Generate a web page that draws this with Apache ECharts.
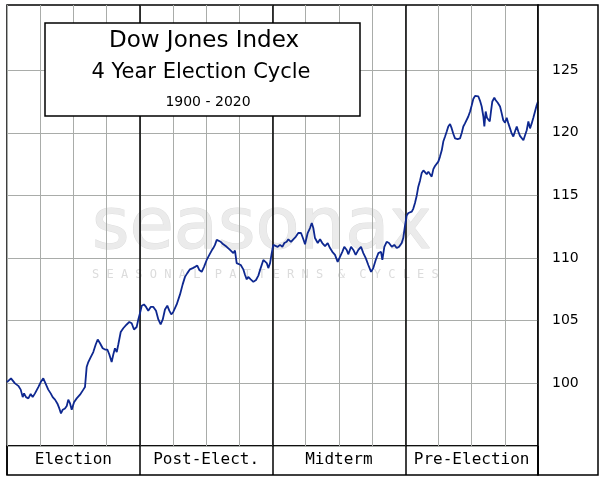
<!DOCTYPE html>
<html>
<head>
<meta charset="utf-8">
<script src="https://cdn.jsdelivr.net/npm/echarts@6.0.0/dist/echarts.min.js"></script>
<style>
html,body{margin:0;padding:0;background:#fff;}
#chart{width:608px;height:483px;}
</style>
</head>
<body>
<div id="chart"></div>
<script>
// Sections of the 4-year cycle (bottom band)
const sectionLabels = ['Election', 'Post-Elect.', 'Midterm', 'Pre-Election'];
const sectionBounds = [12, 24, 36];          // months where a new cycle year starts
const yTickLabels = [100, 105, 110, 115, 120, 125];

// [month of cycle, index value]
const electionYear = [
  [0,100.1],[0.36,100.4],[0.72,100.0],[1.02,99.8],[1.24,99.5],[1.42,98.9],[1.54,99.2],[1.72,98.9],[1.93,98.8],[2.14,99.15],
  [2.32,98.9],[2.53,99.2],[2.83,99.7],[3.05,100.1],[3.28,100.4],[3.53,99.9],[3.73,99.5],[3.95,99.2],[4.13,98.9],[4.34,98.7],
  [4.55,98.4],[4.73,98.0],[4.88,97.6],[5.04,97.9],[5.24,98.0],[5.40,98.2],[5.54,98.7],[5.70,98.4],[5.85,97.9],[6.06,98.5],
  [6.30,98.8],[6.60,99.1],[6.90,99.5],[7.05,99.7],[7.20,101.3],[7.35,101.7],[7.57,102.1],[7.80,102.5],[8.02,103.1],[8.20,103.5],
  [8.41,103.2],[8.65,102.8],[8.86,102.7],[9.07,102.7],[9.25,102.3],[9.46,101.7],[9.61,102.3],[9.76,102.8],[9.92,102.5],[10.06,103.1],
  [10.28,104.1],[10.51,104.4],[10.82,104.7],[11.06,104.9],[11.27,104.8],[11.48,104.3],[11.72,104.5],[11.87,105.1],[12.02,105.6]
];
const postElectionYear = [
  [12.18,106.2],[12.38,106.3],[12.57,106.1],[12.77,105.8],[12.99,106.1],[13.23,106.1],[13.47,105.8],[13.68,105.1],[13.89,104.7],[14.08,105.1],
  [14.28,105.9],[14.49,106.2],[14.67,105.8],[14.85,105.5],[15.03,105.7],[15.34,106.3],[15.64,107.1],[15.88,107.9],[16.09,108.5],[16.30,108.8],
  [16.54,109.1],[16.79,109.2],[17.00,109.3],[17.20,109.4],[17.38,109.05],[17.60,108.9],[17.81,109.3],[18.05,109.85],[18.29,110.25],[18.50,110.6],
  [18.65,110.8],[18.80,111.05],[18.96,111.45],[19.10,111.6],[19.32,111.3],[19.55,111.1],[19.86,110.9],[20.16,110.65],[20.46,110.4],[20.61,110.6],
  [20.76,109.6],[20.91,109.7],[21.13,109.45],[21.36,109.1],[21.52,108.65],[21.67,108.3],[21.81,108.5],[22.03,108.3],[22.27,108.1],[22.51,108.25],
  [22.72,108.6],[22.93,109.2],[23.17,109.85],[23.32,109.9],[23.48,109.6],[23.62,109.2],[23.78,109.6],[23.93,110.4]
];
const midtermYear = [
  [24.07,111.05],[24.23,111.2],[24.47,110.9],[24.68,111.05],[24.89,110.9],[25.07,111.2],[25.28,111.3],[25.43,111.5],[25.67,111.3],[25.88,111.5],
  [26.10,111.7],[26.33,112.0],[26.58,112.0],[26.79,111.5],[26.94,111.1],[27.18,112.0],[27.39,112.4],[27.55,112.8],[27.69,112.4],[27.84,111.6],
  [28.09,111.2],[28.30,111.5],[28.50,111.2],[28.75,110.95],[28.99,111.2],[29.20,110.8],[29.41,110.5],[29.65,110.25],[29.89,109.7],[30.10,110.1],
  [30.31,110.5],[30.49,110.9],[30.71,110.65],[30.85,110.3],[31.10,110.9],[31.31,110.65],[31.52,110.25],[31.76,110.65],[32.00,110.9],[32.21,110.4],
  [32.43,110.0],[32.66,109.45],[32.91,108.9],[33.11,109.2],[33.33,109.85],[33.57,110.4],[33.81,110.5],[33.93,109.85],[34.11,110.9],[34.32,111.3],
  [34.53,111.2],[34.78,110.9],[35.01,111.05],[35.23,110.8],[35.44,110.9],[35.68,111.2],[35.82,111.6],[35.98,112.6]
];
const preElectionYear = [
  [36.13,113.4],[36.28,113.6],[36.43,113.5],[36.59,113.7],[36.73,113.95],[36.88,114.4],[37.04,115.0],[37.18,115.7],[37.34,116.2],[37.49,116.8],
  [37.64,117.0],[37.79,116.9],[37.94,116.7],[38.09,116.9],[38.24,117.0],[38.39,116.5],[38.54,117.1],[38.69,117.35],[38.84,117.25],[38.99,117.7],
  [39.14,118.1],[39.30,118.6],[39.44,119.3],[39.60,119.7],[39.75,120.1],[39.89,120.5],[40.05,120.7],[40.20,120.35],[40.35,119.9],[40.50,119.55],
  [40.74,119.5],[40.95,119.55],[41.11,120.0],[41.25,120.5],[41.40,120.75],[41.56,120.8],[41.70,121.3],[41.86,121.7],[42.01,122.2],[42.15,122.7],
  [42.31,122.95],[42.46,123.0],[42.61,122.9],[42.76,122.55],[42.91,122.1],[43.06,121.3],[43.15,120.5],[43.27,121.7],[43.39,121.2],[43.51,121.3],
  [43.64,120.9],[43.75,121.7],[43.87,122.5],[44.05,122.8],[44.18,122.6],[44.36,122.4],[44.57,122.1],[44.72,121.55],[44.86,121.0],[45.02,120.8],
  [45.17,121.2],[45.32,120.75],[45.47,120.35],[45.62,119.95],[45.77,119.7],[45.92,120.1],[46.08,120.5],[46.22,120.1],[46.37,119.75],[46.53,119.65],
  [46.68,119.4],[46.83,119.8],[46.98,120.2],[47.13,120.9],[47.28,120.35],[47.43,120.75],[47.58,121.2],[47.73,121.7],[47.88,122.2],[48,122.5]
];

const cycleData = [].concat(electionYear, postElectionYear, midtermYear, preElectionYear);

const GRID = '#a9aca9';
const chart = echarts.init(document.getElementById('chart'), null, {renderer: 'canvas'});

chart.setOption({
  animation: false,
  backgroundColor: '#ffffff',
  grid: [
    {left: 7, top: 5, width: 531, height: 441, show: true, borderColor: '#000', borderWidth: 1.5, backgroundColor: 'transparent'},
    {left: 7, top: 446, width: 531, height: 29, show: true, borderColor: '#000', borderWidth: 1.5, backgroundColor: 'transparent'}
  ],
  xAxis: [
    {
      gridIndex: 0, type: 'value', min: 0, max: 48, interval: 3,
      axisLine: {show: false}, axisTick: {show: false}, axisLabel: {show: false},
      splitLine: {show: true, lineStyle: {color: GRID, width: 1}}
    },
    {
      gridIndex: 1, type: 'category', data: sectionLabels, boundaryGap: true, position: 'bottom',
      axisLine: {show: false}, axisTick: {show: false},
      axisLabel: {interval: 0, margin: -15, verticalAlign: 'middle', fontFamily: 'DejaVu Sans Mono', fontSize: 16, color: '#000'},
      splitLine: {show: true, interval: 0, lineStyle: {color: '#000', width: 1.5}}
    }
  ],
  yAxis: [
    {
      gridIndex: 0, type: 'value', position: 'right', min: 95, max: 130.2, interval: 5,
      axisLine: {show: false}, axisTick: {show: false},
      axisLabel: {
        margin: 14, fontFamily: 'DejaVu Sans', fontSize: 14, color: '#000',
        formatter: function (v) { return yTickLabels.indexOf(v) >= 0 ? String(v) : ''; }
      },
      splitLine: {
        show: true, showMaxLine: false,
        lineStyle: {color: [GRID, GRID, GRID, GRID, GRID, GRID, GRID, 'rgba(0,0,0,0)', 'rgba(0,0,0,0)'], width: 1}
      }
    },
    {gridIndex: 1, type: 'value', min: 0, max: 1, show: false, splitLine: {show: false}}
  ],
  graphic: [
    {type: 'text', z: -1, silent: true, style: {text: 'seasonax', x: 92, y: 229, font: '72px "DejaVu Sans"', fill: '#ebebeb', stroke: '#dedede', lineWidth: 1, align: 'left', verticalAlign: 'middle'}},
    {type: 'text', z: -1, silent: true, style: {text: 'S E A S O N A L  P A T T E R N S  &  C Y C L E S', x: 92, y: 275, font: '12px "DejaVu Sans Mono"', fill: '#dcdcdc', align: 'left', verticalAlign: 'middle'}},
    {type: 'rect', z: 50, silent: true, shape: {x: 45, y: 23, width: 315, height: 93}, style: {fill: '#fff', stroke: '#000', lineWidth: 1.5}},
    {type: 'text', z: 51, silent: true, style: {text: 'Dow Jones Index', x: 204, y: 41, font: '23px "DejaVu Sans"', fill: '#000', align: 'center', verticalAlign: 'middle'}},
    {type: 'text', z: 51, silent: true, style: {text: '4 Year Election Cycle', x: 201, y: 73, font: '21px "DejaVu Sans"', fill: '#000', align: 'center', verticalAlign: 'middle'}},
    {type: 'text', z: 51, silent: true, style: {text: '1900 - 2020', x: 208, y: 102, font: '14px "DejaVu Sans"', fill: '#000', align: 'center', verticalAlign: 'middle'}},
    {type: 'rect', z: 40, silent: true, shape: {x: 538, y: 5, width: 60, height: 470}, style: {fill: 'none', stroke: '#000', lineWidth: 1.5}}
  ],
  series: [
    {
      type: 'line', xAxisIndex: 0, yAxisIndex: 0, data: cycleData,
      showSymbol: false, symbol: 'none', smooth: false, z: 5,
      lineStyle: {color: '#0e2890', width: 1.8},
      markLine: {
        silent: true, symbol: ['none', 'none'], label: {show: false}, z: 3,
        lineStyle: {color: '#000', width: 1.5, type: 'solid'},
        data: sectionBounds.map(function (m) { return {xAxis: m}; })
      }
    }
  ]
});
</script>
</body>
</html>
